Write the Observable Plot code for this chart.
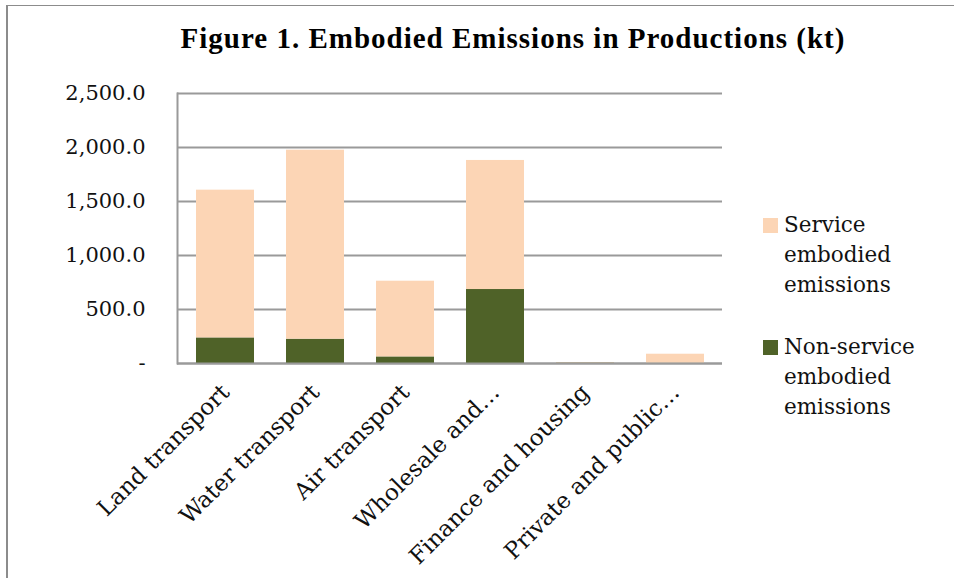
<!DOCTYPE html>
<html>
<head>
<meta charset="utf-8">
<script src="https://cdn.jsdelivr.net/npm/d3@7"></script>
<script src="https://cdn.jsdelivr.net/npm/@observablehq/plot@0.6"></script>
<style>
  html, body { margin: 0; padding: 0; background: #fff; overflow: hidden; }
  #wrap { position: relative; width: 954px; height: 578px; overflow: hidden; }
  #border { position: absolute; left: 6px; top: 5px; width: 960px; height: 600px;
            border-left: 2px solid #8c8c8c; border-top: 1.5px solid #8c8c8c; box-sizing: border-box; }
  #title { position: absolute; left: 0; top: 24px; width: 1026px; text-align: center;
           font-family: "Liberation Serif", serif; font-weight: bold; font-size: 29px; letter-spacing: 1px; line-height: 1; color: #000; }
  #chart { position: absolute; left: 0; top: 60px; }
  #legend { position: absolute; left: 763px; top: 210px; font-family: "DejaVu Serif", serif; font-size: 21.5px; color: #111; }
  .item { position: relative; padding-left: 21px; line-height: 30px; }
  .sw { position: absolute; left: 0; top: 8px; width: 15px; height: 15px; }
</style>
</head>
<body>
<div id="wrap">
  <div id="border"></div>
  <div id="title">Figure 1. Embodied Emissions in Productions (kt)</div>
  <div id="chart"></div>
  <div id="legend"></div>
</div>
<script>
const categories = ["Land transport", "Water transport", "Air transport", "Wholesale and…", "Finance and housing", "Private and public…"];
const nonServiceValues = [237, 225, 61, 685, 4, 2];
const serviceValues = [1368, 1750, 701, 1195, 4, 84];
const seriesNames = ["Non-service embodied emissions", "Service embodied emissions"];
const seriesColors = ["#4f6228", "#fcd5b5"];
const yTicks = [0, 500, 1000, 1500, 2000, 2500];

const data = [];
categories.forEach((c, i) => {
  data.push({category: c, series: seriesNames[0], value: nonServiceValues[i]});
  data.push({category: c, series: seriesNames[1], value: serviceValues[i]});
});

const fmt = d => d === 0 ? "-" : d3.format(",.1f")(d);

const chart = Plot.plot({
  width: 730,
  height: 518,
  marginLeft: 177,
  marginRight: 8,
  marginTop: 33,
  marginBottom: 215,
  style: {fontFamily: "DejaVu Serif, serif", fontSize: "21px", color: "#111", background: "transparent", overflow: "visible"},
  x: {domain: categories, paddingInner: 0.36, paddingOuter: 0.18, label: null},
  y: {domain: [0, 2500], label: null},
  color: {domain: seriesNames, range: seriesColors},
  marks: [
    Plot.gridY(yTicks, {stroke: "#9a9a9a", strokeOpacity: 1, strokeWidth: 2}),
    Plot.barY(data, {x: "category", y: "value", fill: "series", order: seriesNames}),
    Plot.ruleY([0], {stroke: "#9a9a9a", strokeWidth: 2}),
    Plot.frame({anchor: "left", stroke: "#9a9a9a", strokeWidth: 2}),
    Plot.axisY(yTicks, {tickSize: 0, tickPadding: 32, tickFormat: fmt, label: null, fontSize: 21}),
    Plot.axisX({tickSize: 0, tickRotate: -45, tickPadding: 25, label: null, fontSize: 23})
  ]
});
document.getElementById("chart").appendChild(chart);

const legendItems = [
  {name: "Service embodied emissions", lines: ["Service", "embodied", "emissions"], color: seriesColors[1]},
  {name: "Non-service embodied emissions", lines: ["Non-service", "embodied", "emissions"], color: seriesColors[0]}
];
const legend = document.getElementById("legend");
legendItems.forEach((it, k) => {
  const div = document.createElement("div");
  div.className = "item";
  if (k > 0) div.style.marginTop = "32px";
  const sw = document.createElement("span");
  sw.className = "sw";
  sw.style.background = it.color;
  div.appendChild(sw);
  div.insertAdjacentHTML("beforeend", it.lines.join("<br>"));
  legend.appendChild(div);
});
</script>
</body>
</html>
